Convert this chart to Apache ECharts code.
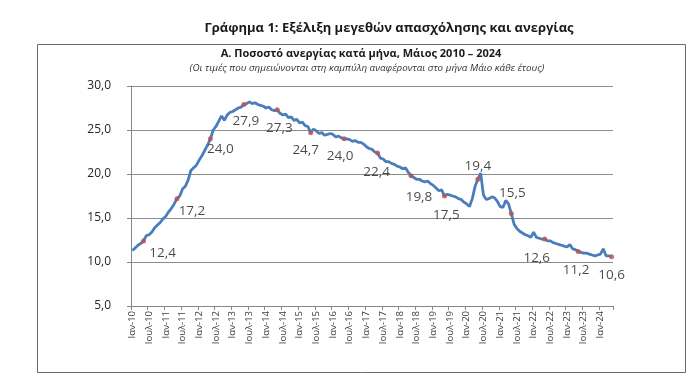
<!DOCTYPE html>
<html>
<head>
<meta charset="utf-8">
<script src="https://cdn.jsdelivr.net/npm/echarts@6/dist/echarts.min.js"></script>
<style>
  html, body { margin: 0; padding: 0; background: #fff; }
  #chart { width: 700px; height: 376px; }
</style>
</head>
<body>
<div id="chart"></div>
<script>
// monthly unemployment rate (%), Jan 2010 - May 2024
const monthNames = ['Ιαν', 'Φεβ', 'Μαρ', 'Απρ', 'Μαϊ', 'Ιουν', 'Ιουλ', 'Αυγ', 'Σεπ', 'Οκτ', 'Νοε', 'Δεκ'];
const rate2010 = [11.3, 11.6, 11.9, 12.1, 12.4, 13.0, 13.1, 13.4, 13.9, 14.2, 14.5, 14.9];
const rate2011 = [15.2, 15.7, 16.1, 16.6, 17.2, 17.5, 18.3, 18.6, 19.3, 20.4, 20.7, 21.0];
const rate2012 = [21.6, 22.1, 22.7, 23.3, 24.0, 25.0, 25.4, 26.0, 26.6, 26.1, 26.7, 27.0];
const rate2013 = [27.1, 27.3, 27.5, 27.6, 27.9, 28.0, 28.2, 28.0, 28.1, 27.9, 27.8, 27.7];
const rate2014 = [27.5, 27.6, 27.3, 27.2, 27.3, 26.9, 26.7, 26.8, 26.4, 26.5, 26.1, 26.2];
const rate2015 = [25.8, 25.9, 25.5, 25.4, 24.7, 25.1, 24.9, 24.6, 24.7, 24.4, 24.5, 24.6];
const rate2016 = [24.5, 24.2, 24.3, 24.1, 24.0, 24.0, 23.9, 23.7, 23.8, 23.6, 23.6, 23.4];
const rate2017 = [23.1, 22.9, 22.8, 22.5, 22.4, 21.8, 21.7, 21.4, 21.4, 21.2, 21.1, 20.9];
const rate2018 = [20.8, 20.6, 20.7, 20.2, 19.8, 19.6, 19.4, 19.4, 19.2, 19.1, 19.2, 18.9];
const rate2019 = [18.7, 18.4, 18.1, 18.2, 17.5, 17.7, 17.6, 17.5, 17.4, 17.2, 17.1, 16.8];
const rate2020 = [16.6, 16.3, 17.2, 18.6, 19.4, 20.1, 17.6, 17.1, 17.2, 17.4, 17.3, 16.9];
const rate2021 = [16.3, 16.2, 17.0, 16.6, 15.5, 14.3, 13.8, 13.5, 13.3, 13.1, 13.0, 12.8];
const rate2022 = [13.4, 12.8, 12.7, 12.6, 12.6, 12.4, 12.4, 12.2, 12.1, 12.0, 11.9, 11.8];
const rate2023 = [11.7, 12.0, 11.5, 11.4, 11.2, 11.1, 11.0, 11.0, 10.9, 10.8, 10.7, 10.8];
const rate2024 = [10.9, 11.5, 10.7, 10.7, 10.6];
const yearly = [rate2010, rate2011, rate2012, rate2013, rate2014, rate2015, rate2016,
  rate2017, rate2018, rate2019, rate2020, rate2021, rate2022, rate2023, rate2024];

// where the May label sits relative to its dot [dx, dy]
const labelAt = {
  2010: [19, 12], 2011: [15, 13], 2012: [10, 10], 2013: [2, 17], 2014: [2, 18],
  2015: [-5, 18], 2016: [-4, 17], 2017: [-1, 19], 2018: [8, 21], 2019: [2, 19],
  2020: [0, -13], 2021: [1, -20], 2022: [-8, 19], 2023: [-2, 19], 2024: [0, 18]
};

const fmt = v => v.toFixed(1).replace('.', ',');

let categories = [];
let values = [];
let mayPoints = [];
yearly.forEach((arr, k) => {
  const year = 2010 + k;
  arr.forEach((v, m) => {
    if (m === 4) {
      mayPoints.push({
        value: [values.length, v],
        label: { offset: labelAt[year] }
      });
    }
    categories.push(monthNames[m] + '-' + String(year).slice(2));
    values.push(v);
  });
});

const chart = echarts.init(document.getElementById('chart'));
const font = 'Open Sans';
chart.setOption({
  backgroundColor: '#fff',
  animation: false,
  graphic: [
    {
      type: 'rect',
      shape: { x: 37.5, y: 44.5, width: 648, height: 328 },
      style: { fill: 'none', stroke: '#6b6b6b', lineWidth: 1 }
    },
    {
      type: 'text', x: 389, y: 28,
      style: { text: 'Γράφημα 1: Εξέλιξη μεγεθών απασχόλησης και ανεργίας', fontFamily: font,
        fontSize: 13, fontWeight: 'bold', fill: '#1a1a1a', textAlign: 'center', textVerticalAlign: 'middle' }
    },
    {
      type: 'text', x: 361, y: 54,
      style: { text: 'Α. Ποσοστό ανεργίας κατά μήνα, Μάιος 2010 – 2024', fontFamily: font,
        fontSize: 11, fontWeight: 'bold', fill: '#1a1a1a', textAlign: 'center', textVerticalAlign: 'middle' }
    },
    {
      type: 'text', x: 367, y: 68,
      style: { text: '(Οι τιμές που σημειώνονται στη καμπύλη αναφέρονται στο μήνα Μάιο κάθε έτους)', fontFamily: font,
        fontSize: 9.8, fontStyle: 'italic', fill: '#333', textAlign: 'center', textVerticalAlign: 'middle' }
    }
  ],
  grid: { left: 131, right: 87, top: 86, bottom: 70 },
  xAxis: {
    type: 'category',
    data: categories,
    boundaryGap: true,
    axisLine: { lineStyle: { color: '#868686' } },
    axisTick: { show: true, interval: 5, length: 4, lineStyle: { color: '#868686' } },
    axisLabel: {
      interval: 5, rotate: 90, fontSize: 9.5, fontFamily: font, color: '#404040', margin: 5
    }
  },
  yAxis: {
    type: 'value',
    min: 5, max: 30, interval: 5,
    axisLine: { show: true, lineStyle: { color: '#868686' } },
    axisTick: { show: true, length: 4, lineStyle: { color: '#868686' } },
    axisLabel: { formatter: fmt, fontSize: 12, fontFamily: font, color: '#262626', margin: 20 },
    splitLine: { lineStyle: { color: '#8c8c8c' } }
  },
  series: [
    {
      type: 'line',
      data: values,
      showSymbol: false,
      lineStyle: { color: '#4a7ebb', width: 2.8 },
      z: 2
    },
    {
      type: 'scatter',
      data: mayPoints,
      symbol: 'circle',
      symbolSize: 5,
      itemStyle: { color: '#c0504d' },
      label: {
        show: true, position: 'inside', formatter: p => fmt(p.value[1]),
        fontSize: 13.5, fontFamily: font, color: '#1a1a1a'
      },
      z: 3
    }
  ]
});
</script>
</body>
</html>
